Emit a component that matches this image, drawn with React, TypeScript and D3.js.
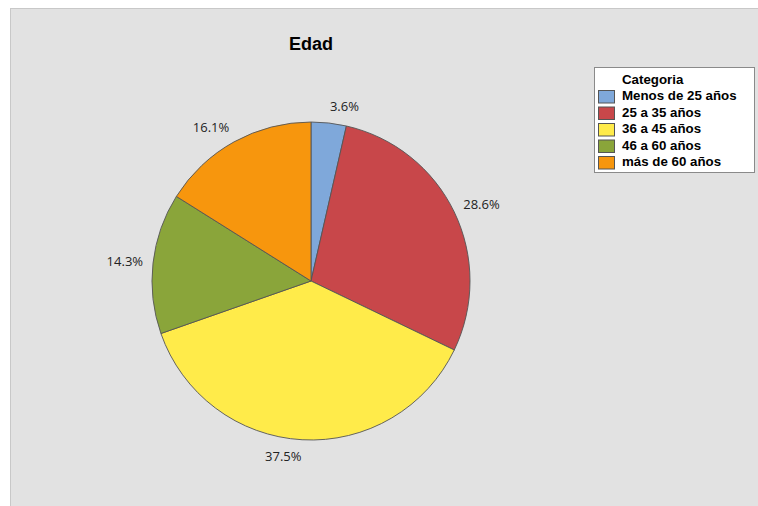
import React from 'react';
import * as d3 from 'd3';

const categories = ['Menos de 25 años', '25 a 35 años', '36 a 45 años', '46 a 60 años', 'más de 60 años'];
const counts = [2, 16, 21, 8, 9];
const colors = ['#7fa8da', '#c8474a', '#ffeb4a', '#8aa53a', '#f7960d'];
const title = 'Edad';
const legendTitle = 'Categoria';

export default function App() {
  const W = 758, H = 506;
  const cx = 311, cy = 281, r = 159;
  const total = d3.sum(counts);
  const pie = d3.pie<number>().sort(null).value(d => d)(counts);
  const arc = d3.arc<d3.PieArcDatum<number>>().innerRadius(0).outerRadius(r);
  const fmt = d3.format('.1%');
  const labelR = r + 10;
  return (
    <svg width={W} height={H} style={{ position: 'absolute', left: 0, top: 0, background: '#fff' }}>
      <rect x={10.5} y={8.5} width={800} height={600} fill="#e2e2e2" stroke="#c8c8c8" />
      <text x={cx} y={50} textAnchor="middle" fontFamily="Liberation Sans, Arial, sans-serif" fontWeight="bold" fontSize={18} fill="#000">{title}</text>
      <g transform={`translate(${cx},${cy})`}>
        {pie.map((p, i) => (
          <path key={i} d={arc(p) || ''} fill={colors[i]} stroke="#555" strokeWidth={0.9} />
        ))}
        {pie.map((p, i) => {
          const a = (p.startAngle + p.endAngle) / 2;
          const x = Math.sin(a) * labelR;
          const y = -Math.cos(a) * labelR;
          const anchor = Math.abs(Math.sin(a)) < 0.15 ? 'middle' : Math.sin(a) > 0 ? 'start' : 'end';
          const dy = (0.35 - 0.5 * Math.cos(a)).toFixed(2) + 'em';
          return (
            <text key={'l' + i} x={x} y={y} dy={dy} textAnchor={Math.sin(a) > 0.05 ? 'start' : Math.sin(a) < -0.05 ? 'end' : anchor}
              fontFamily="Open Sans, Noto Sans, sans-serif" fontSize={13} fill="#222">
              {fmt(p.value / total)}
            </text>
          );
        })}
      </g>
      <g>
        <rect x={594.5} y={67.5} width={160} height={105} fill="#fff" stroke="#8a8a8a" />
        <text x={622} y={84} fontFamily="Liberation Sans, Arial, sans-serif" fontWeight="bold" fontSize={13.3} fill="#000">{legendTitle}</text>
        {categories.map((c, i) => {
          const by = 100 + i * 16.5;
          return (
            <g key={c}>
              <rect x={598.5} y={by - 9.5} width={16} height={12.5} fill={colors[i]} stroke="#555" />
              <text x={622} y={by} fontFamily="Liberation Sans, Arial, sans-serif" fontWeight="bold" fontSize={13.3} fill="#000">{c}</text>
            </g>
          );
        })}
      </g>
    </svg>
  );
}
